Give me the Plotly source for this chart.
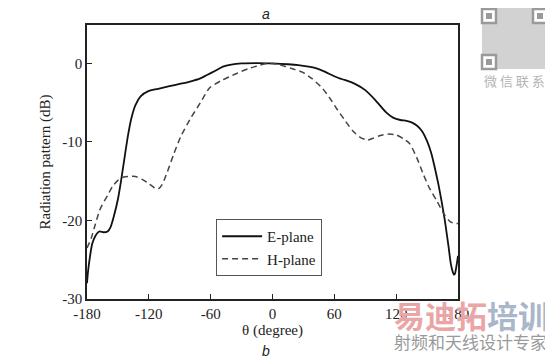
import plotly.graph_objects as go

# E-plane (solid)
e_theta = [-180, -179, -177, -175, -172, -168, -164, -160, -157, -154, -150, -147, -143, -140, -137,
           -133, -128, -120, -110, -100, -90, -80, -70, -64, -55, -48, -40, -30, -15, 0, 15, 25,
           35, 42, 50, 58, 65, 70, 80, 90, 100, 110, 117, 124, 130, 135, 140, 145, 150, 154, 157,
           161, 164, 167, 169, 171, 173, 175, 176, 177, 178, 179, 180]
e_db = [-28.0, -26.5, -24.5, -23.0, -22.0, -21.4, -21.5, -21.4, -20.8, -19.5, -17.3, -15.0, -11.5,
        -9.0, -7.0, -5.3, -4.2, -3.5, -3.2, -2.9, -2.6, -2.3, -1.9, -1.5, -0.9, -0.4, -0.15, 0.0,
        0.05, 0.0, -0.1, -0.2, -0.4, -0.6, -1.0, -1.5, -1.9, -2.1, -2.6, -3.4, -4.7, -6.2, -6.9,
        -7.2, -7.3, -7.5, -7.9, -8.6, -9.9, -11.4, -13.0, -15.4, -17.5, -19.8, -21.6, -23.5,
        -25.5, -26.6, -26.9, -26.8, -26.2, -25.4, -24.5]

# H-plane (dashed)
h_theta = [-180, -176, -172, -168, -166, -160, -155, -150, -145, -140, -133, -126, -120, -115, -111,
           -107, -102, -96, -89, -80, -70, -61, -50, -42, -30, -22, -12, -5, 5, 13, 20, 29, 38, 48,
           55, 62, 70, 78, 85, 92, 98, 104, 112, 120, 127, 133, 140, 146, 152, 159, 167, 173, 180]
h_db = [-23.5, -22.3, -20.5, -18.8, -18.2, -16.8, -15.6, -14.9, -14.5, -14.4, -14.4, -14.8, -15.3,
        -15.8, -16.0, -15.4, -13.8, -11.6, -9.3, -7.1, -5.0, -3.1, -2.2, -1.7, -1.0, -0.6, -0.2,
        0.0, -0.1, -0.4, -0.7, -1.1, -1.9, -3.1, -4.3, -5.7, -7.2, -8.6, -9.4, -9.75, -9.5, -9.2,
        -9.0, -9.1, -9.6, -10.2, -12.0, -14.0, -15.8, -17.4, -19.3, -20.2, -20.4]

x_ticks = [-180, -120, -60, 0, 60, 120, 180]
y_ticks = [-30, -20, -10, 0]

SERIF = "Liberation Serif, Times New Roman, serif"

# page body has an 8px margin; figure is laid out so the window positions match
OFF = 8
W, H = 545, 348
ML, MR, MT, MB = 87 - OFF, W - (458 - OFF), 25 - OFF, H - (299 - OFF)

fig = go.Figure()
fig.add_trace(go.Scatter(x=e_theta, y=e_db, mode="lines", name="E-plane",
                         line=dict(color="#111111", width=1.8, shape="spline", smoothing=0.6)))
fig.add_trace(go.Scatter(x=h_theta, y=h_db, mode="lines", name="H-plane",
                         line=dict(color="#444444", width=1.5, dash="6px,4px",
                                   shape="spline", smoothing=0.6)))

fig.update_layout(
    width=W, height=H,
    margin=dict(l=ML, r=MR, t=MT, b=MB, autoexpand=False),
    paper_bgcolor="white", plot_bgcolor="white",
    font=dict(family=SERIF, size=15, color="#222222"),
    showlegend=True,
    legend=dict(x=0.348, y=0.292, xanchor="left", yanchor="top",
                bgcolor="white", bordercolor="#555555", borderwidth=1,
                font=dict(family=SERIF, size=15, color="#222222"),
                tracegroupgap=0, itemwidth=40),
    xaxis=dict(range=[-180, 180], tickvals=x_ticks, ticktext=[str(v) for v in x_ticks],
               showline=True, linecolor="#222222", linewidth=1.5, mirror=True,
               ticks="inside", ticklen=5, tickcolor="#222222", showgrid=False, zeroline=False,
               title=dict(text="θ (degree)", standoff=4, font=dict(family=SERIF, size=15))),
    yaxis=dict(range=[-30, 4.9], tickvals=y_ticks, ticktext=[str(v) for v in y_ticks],
               showline=True, linecolor="#222222", linewidth=1.5, mirror=True,
               ticks="inside", ticklen=5, tickcolor="#222222", showgrid=False, zeroline=False,
               title=dict(text="Radiation pattern (dB)", standoff=8,
                          font=dict(family=SERIF, size=15))),
)

# window-pixel -> paper coordinates
def px(xp):
    return (xp - OFF - ML) / (W - ML - MR)

def py(yp):
    return (H - MB - (yp - OFF)) / (H - MT - MB)

def ann(text, x, y, size, color, family, xanchor="center"):
    fig.add_annotation(text=text, x=px(x), y=py(y), xref="paper", yref="paper",
                       xanchor=xanchor, yanchor="middle", showarrow=False,
                       font=dict(family=family, size=size, color=color))

# panel labels
ann("<i>a</i>", 266, 14, 14, "#222222", "Liberation Sans, Arial")
ann("<i>b</i>", 266, 351, 14, "#222222", "Liberation Sans, Arial")

# watermark texts
ann("<b><span style='color:#eaa6a6'>易迪拓</span><span style='color:#aab6ca'>培训</span></b>",
    392, 314, 31, "#eaa6a6", "Noto Sans CJK SC", xanchor="left")
ann("射频和天线设计专家", 392, 341, 17, "#9a9a9a", "Noto Sans CJK SC", xanchor="left")
ann("微 信 联 系", 514, 80, 13, "#b5b5b5", "Noto Sans CJK SC")

# QR-like decoration
shapes = [dict(type="rect", xref="paper", yref="paper", x0=px(482), x1=px(547), y0=py(69), y1=py(8),
               fillcolor="#d2d2d2", line=dict(width=0))]
for (cx, cy) in [(482, 9), (533, 9), (482, 55)]:
    shapes.append(dict(type="rect", xref="paper", yref="paper", x0=px(cx), x1=px(cx + 14),
                       y0=py(cy + 14), y1=py(cy), fillcolor="white",
                       line=dict(color="#9a9a9a", width=2.5)))
    shapes.append(dict(type="rect", xref="paper", yref="paper", x0=px(cx + 4), x1=px(cx + 10),
                       y0=py(cy + 10), y1=py(cy + 4), fillcolor="#9a9a9a", line=dict(width=0)))
fig.update_layout(shapes=shapes)

fig.write_html("out.html")
